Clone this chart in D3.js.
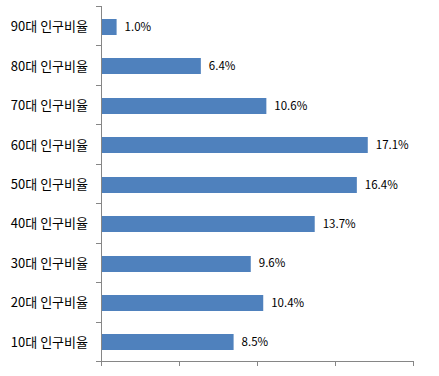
<!DOCTYPE html>
<html>
<head>
<meta charset="utf-8">
<script src="https://cdn.jsdelivr.net/npm/d3@7"></script>
<style>
  body { margin: 0; background: #fff; }
  text { font-family: "Noto Sans CJK KR", "Noto Sans", sans-serif; }
</style>
</head>
<body>
<div id="chart"></div>
<script>
// data (top to bottom as drawn)
const categories = ["90대 인구비율", "80대 인구비율", "70대 인구비율", "60대 인구비율", "50대 인구비율",
                    "40대 인구비율", "30대 인구비율", "20대 인구비율", "10대 인구비율"];
const values = [1.0, 6.4, 10.6, 17.1, 16.4, 13.7, 9.6, 10.4, 8.5];
const xTicks = [0, 5, 10, 15, 20];

// dimensions
const margin = { top: 6, right: 26, bottom: 15, left: 101 },
  width = 439 - margin.left - margin.right,
  height = 376 - margin.top - margin.bottom;

const svg = d3.select("#chart")
  .append("svg")
  .attr("width", 439)
  .attr("height", 376)
  .append("g")
  .attr("transform", `translate(${margin.left},${margin.top})`);

const data = categories.map((c, i) => ({ name: c, value: values[i] }));

const x = d3.scaleLinear().domain([0, 20]).range([0, 312]);
const y = d3.scaleBand().domain(categories).range([0, height]).paddingInner(0.6).paddingOuter(0.3);
const yBoundary = d3.scaleLinear().domain([0, categories.length]).range([0, height]);

const axisColor = "#868686";

// bars
svg.selectAll(".bar")
  .data(data)
  .enter()
  .append("rect")
  .attr("class", "bar")
  .attr("x", 0)
  .attr("y", d => Math.round(y(d.name)) + 1)
  .attr("width", d => x(d.value))
  .attr("height", Math.round(y.bandwidth()))
  .attr("fill", "#4F81BD");

// value labels
svg.selectAll(".val")
  .data(data)
  .enter()
  .append("text")
  .attr("class", "val")
  .attr("x", d => x(d.value) + 8)
  .attr("y", d => y(d.name) + y.bandwidth() / 2 + 1)
  .attr("dy", "0.35em")
  .attr("font-size", 11.5)
  .attr("fill", "#000")
  .text(d => d.value.toFixed(1) + "%");

// y axis line + boundary ticks
svg.append("line")
  .attr("x1", 0.5).attr("x2", 0.5)
  .attr("y1", 0).attr("y2", height)
  .attr("stroke", axisColor);
svg.selectAll(".ytick")
  .data(d3.range(categories.length + 1))
  .enter()
  .append("line")
  .attr("x1", -5).attr("x2", 0)
  .attr("y1", d => Math.round(yBoundary(d)) + 0.5)
  .attr("y2", d => Math.round(yBoundary(d)) + 0.5)
  .attr("stroke", axisColor);

// category labels
svg.selectAll(".cat")
  .data(categories)
  .enter()
  .append("text")
  .attr("class", "cat")
  .attr("x", -13)
  .attr("y", d => y(d) + y.bandwidth() / 2 + 1)
  .attr("dy", "0.35em")
  .attr("text-anchor", "end")
  .attr("font-size", 13)
  .attr("fill", "#000")
  .text(d => d);

// x axis (no labels)
svg.append("line")
  .attr("x1", 0).attr("x2", x(20))
  .attr("y1", height + 0.5).attr("y2", height + 0.5)
  .attr("stroke", axisColor);
svg.selectAll(".xtick")
  .data(xTicks)
  .enter()
  .append("line")
  .attr("x1", d => Math.round(x(d)) + 0.5)
  .attr("x2", d => Math.round(x(d)) + 0.5)
  .attr("y1", height).attr("y2", height + 5)
  .attr("stroke", axisColor);
</script>
</body>
</html>
